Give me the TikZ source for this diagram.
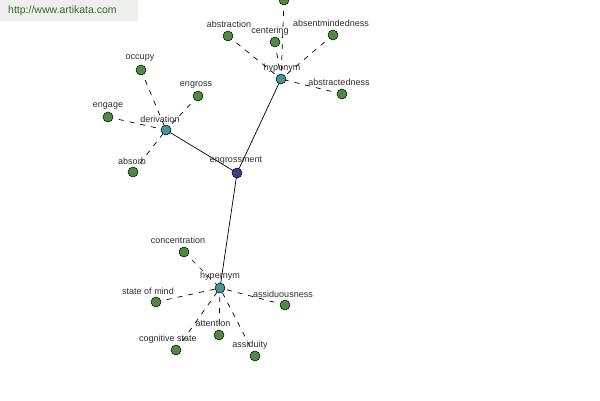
\documentclass[tikz,border=0pt]{standalone}
\usepackage{fontspec}
\setmainfont{Liberation Sans}
\begin{document}
\begin{tikzpicture}[x=1pt,y=-1pt,
  leaf/.style={circle,draw=black,line width=0.5pt,fill=leafgreen,minimum size=10pt,inner sep=0pt},
  rel/.style={circle,draw=black,line width=0.5pt,fill=relteal,minimum size=10pt,inner sep=0pt},
  root/.style={circle,draw=black,line width=0.5pt,fill=rootblue,minimum size=10pt,inner sep=0pt},
  lbl/.style={font=\fontsize{9}{10}\selectfont,text=lblgray,inner sep=0pt},
  dashlink/.style={draw=black,line width=0.7pt,dash pattern=on 5pt off 6pt},
  solidlink/.style={draw=black,line width=0.7pt}]
\definecolor{leafgreen}{RGB}{78,138,66}
\definecolor{relteal}{RGB}{66,148,150}
\definecolor{rootblue}{RGB}{62,62,140}
\definecolor{lblgray}{RGB}{45,45,45}
\definecolor{wmgray}{RGB}{238,238,236}
\definecolor{wmtext}{RGB}{60,100,50}
\useasboundingbox (0,0) rectangle (600,400);
\clip (0,0) rectangle (600,400);
\fill[white] (0,0) rectangle (600,400);
\fill[wmgray] (0,0) rectangle (138,21);
\node[anchor=west,font=\fontsize{10.5}{11}\selectfont,text=wmtext,inner sep=0pt] (wm) at (8,11) {http://www.artikata.com};
% main nodes
\coordinate (engrossment) at (237,173);
\coordinate (derivation) at (166,130);
\coordinate (hyponym) at (281,79);
\coordinate (hypernym) at (220,288);
% leaves
\coordinate (top) at (284,0);
\coordinate (abstraction) at (228,36);
\coordinate (centering) at (275,42);
\coordinate (absentmindedness) at (333,35);
\coordinate (abstractedness) at (342,94);
\coordinate (occupy) at (141,70);
\coordinate (engross) at (198,96);
\coordinate (engage) at (108,117);
\coordinate (absorb) at (133,172);
\coordinate (concentration) at (184,252);
\coordinate (stateofmind) at (156,302);
\coordinate (assiduousness) at (285,305);
\coordinate (attention) at (219,335);
\coordinate (cognitivestate) at (176,350);
\coordinate (assiduity) at (255,356);
% connectors
\draw[solidlink] (engrossment) -- (derivation);
\draw[solidlink] (engrossment) -- (hyponym);
\draw[solidlink] (engrossment) -- (hypernym);
\foreach \l in {top,abstraction,centering,absentmindedness,abstractedness}
  \draw[dashlink] (\l) -- (hyponym);
\foreach \l in {occupy,engross,engage,absorb}
  \draw[dashlink] (\l) -- (derivation);
\foreach \l in {concentration,stateofmind,assiduousness,attention,cognitivestate,assiduity}
  \draw[dashlink] (\l) -- (hypernym);
% labels
\node[lbl] (lab-abstraction) at (229,24) {abstraction};
\node[lbl] (lab-centering) at (270,31) {centering};
\node[lbl] (lab-absentmindedness) at (331,23) {absentmindedness};
\node[lbl] (lab-abstractedness) at (339,82) {abstractedness};
\node[lbl] (lab-hyponym) at (282,68) {hyponym};
\node[lbl] (lab-occupy) at (140,58) {occupy};
\node[lbl] (lab-engross) at (196,85) {engross};
\node[lbl] (lab-engage) at (108,106) {engage};
\node[lbl] (lab-derivation) at (160,119) {derivation};
\node[lbl] (lab-absorb) at (132,161) {absorb};
\node[lbl] (lab-engrossment) at (236,161) {engrossment};
\node[lbl] (lab-concentration) at (178,240) {concentration};
\node[lbl] (lab-hypernym) at (220,276) {hypernym};
\node[lbl] (lab-stateofmind) at (148,291) {state of mind};
\node[lbl] (lab-assiduousness) at (283,294) {assiduousness};
\node[lbl] (lab-attention) at (213,323) {attention};
\node[lbl] (lab-cognitivestate) at (168,339) {cognitive state};
\node[lbl] (lab-assiduity) at (250,345) {assiduity};
% circles
\foreach \l in {top,abstraction,centering,absentmindedness,abstractedness,occupy,engross,engage,absorb,concentration,stateofmind,assiduousness,attention,cognitivestate,assiduity}
  \node[leaf] (n-\l) at (\l) {};
\foreach \l in {derivation,hyponym,hypernym}
  \node[rel] (n-\l) at (\l) {};
\node[root] (n-engrossment) at (engrossment) {};
\end{tikzpicture}
\end{document}
